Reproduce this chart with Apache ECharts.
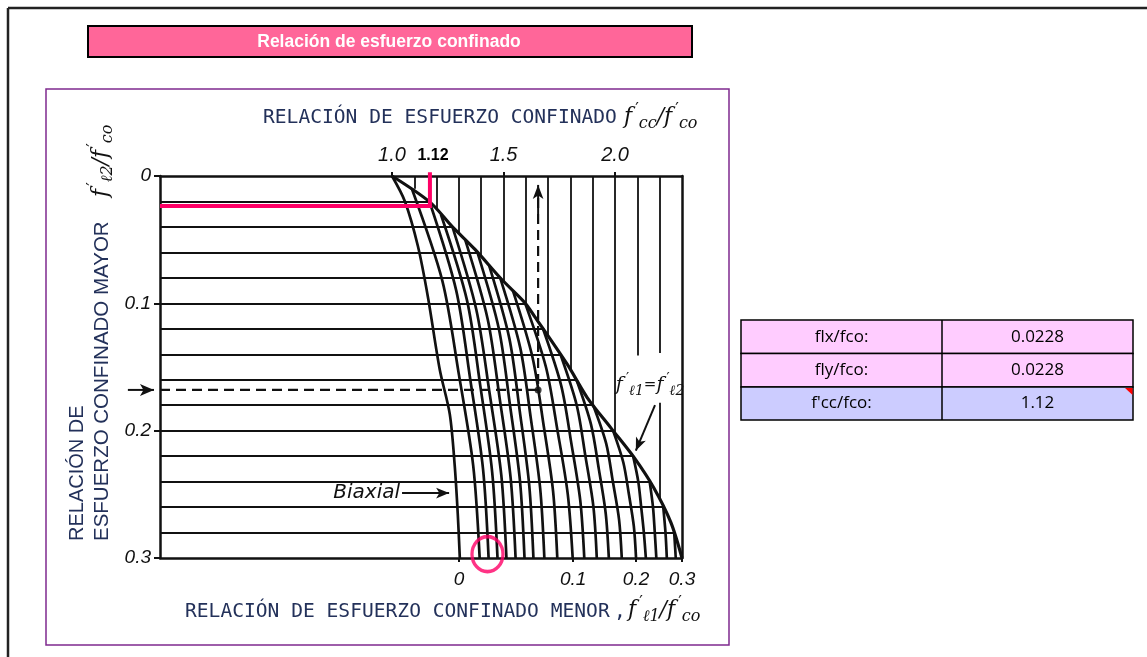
<!DOCTYPE html>
<html>
<head>
<meta charset="utf-8">
<script src="https://cdn.jsdelivr.net/npm/echarts@6/dist/echarts.min.js"></script>
<style>
  html, body { margin: 0; padding: 0; background: #fff; }
  #chart { width: 1147px; height: 657px; }
</style>
</head>
<body>
<div id="chart"></div>
<script>
// eje superior: f'cc/f'co
const topTicks = [1.0, 1.5, 2.0]
// eje inferior: f'l1/f'co (posición leída sobre la escala f'cc/f'co)
const bottomTickPos = [1.300, 1.812, 2.094, 2.3]
const bottomTickText = ['0', '0.1', '0.2', '0.3']

// rejilla horizontal (f'l2/f'co) hasta la envolvente
const hGridY = [0.02, 0.04, 0.06, 0.08, 0.10, 0.12, 0.14, 0.16, 0.18, 0.20, 0.22, 0.24, 0.26, 0.28]
const hGridEnd = [1.168, 1.271, 1.383, 1.485, 1.597, 1.677, 1.755, 1.827, 1.902, 1.991, 2.081, 2.155, 2.216, 2.265]
// rejilla vertical (f'cc/f'co), tramos desde/hasta
const vGridX = [1.1, 1.2, 1.3, 1.4, 1.5, 1.6, 1.7, 1.8, 1.9, 2.0, 2.1, 2.2, 2.2]
const vGridFrom = [0, 0, 0, 0, 0, 0, 0, 0, 0, 0, 0, 0, 0.178]
const vGridTo = [0.010, 0.026, 0.045, 0.063, 0.083, 0.101, 0.126, 0.152, 0.180, 0.202, 0.141, 0.139, 0.254]

// envolvente f'l1 = f'l2
const envelope = [[1.0, 0], [1.170, 0.0205], [1.268, 0.0394], [1.371, 0.0575], [1.491, 0.0811], [1.594, 0.0992],
  [1.638, 0.110], [1.786, 0.148], [1.875, 0.174], [1.982, 0.198], [2.085, 0.221], [2.174, 0.245], [2.25, 0.272], [2.30, 0.30]]

// curvas de f'l1/f'co constante
const biaxial = [[1.0, 0], [1.058, 0.02], [1.116, 0.055], [1.161, 0.095], [1.214, 0.152], [1.259, 0.187], [1.281, 0.227], [1.295, 0.266], [1.304, 0.3]]
const curves = [
  biaxial,
  [[1.089, 0.01], [1.226, 0.0825], [1.299, 0.155], [1.364, 0.2275], [1.393, 0.3]],
  [[1.168, 0.02], [1.288, 0.09], [1.351, 0.16], [1.408, 0.23], [1.433, 0.3]],
  [[1.219, 0.03], [1.336, 0.0975], [1.396, 0.165], [1.449, 0.2325], [1.473, 0.3]],
  [[1.271, 0.04], [1.378, 0.105], [1.437, 0.17], [1.490, 0.235], [1.513, 0.3]],
  [[1.328, 0.05], [1.429, 0.1125], [1.483, 0.175], [1.532, 0.2375], [1.554, 0.3]],
  [[1.383, 0.06], [1.479, 0.12], [1.529, 0.18], [1.574, 0.24], [1.594, 0.3]],
  [[1.435, 0.07], [1.526, 0.1275], [1.573, 0.185], [1.615, 0.2425], [1.634, 0.3]],
  [[1.485, 0.08], [1.575, 0.135], [1.622, 0.19], [1.664, 0.245], [1.683, 0.3]],
  [[1.542, 0.09], [1.630, 0.1425], [1.679, 0.195], [1.722, 0.2475], [1.741, 0.3]],
  [[1.597, 0.10], [1.690, 0.15], [1.742, 0.20], [1.788, 0.25], [1.810, 0.3]],
  [[1.677, 0.12], [1.759, 0.165], [1.804, 0.21], [1.844, 0.255], [1.862, 0.3]],
  [[1.755, 0.14], [1.828, 0.18], [1.867, 0.22], [1.903, 0.26], [1.918, 0.3]],
  [[1.827, 0.16], [1.892, 0.195], [1.927, 0.23], [1.958, 0.265], [1.972, 0.3]],
  [[1.902, 0.18], [1.960, 0.21], [1.990, 0.24], [2.018, 0.27], [2.030, 0.3]],
  [[1.991, 0.20], [2.037, 0.225], [2.062, 0.25], [2.084, 0.275], [2.094, 0.3]],
  [[2.081, 0.22], [2.104, 0.24], [2.117, 0.26], [2.129, 0.28], [2.138, 0.3]],
  [[2.155, 0.24], [2.170, 0.26], [2.178, 0.28], [2.185, 0.3]],
  [[2.216, 0.26], [2.226, 0.28], [2.232, 0.3]],
  [[2.265, 0.28], [2.272, 0.3]]
]

// ejemplo punteado
const dashedPath = [[-0.04, 0.168], [1.655, 0.168], [1.655, 0.012]]
// resultado marcado en rosa
const pinkPath = [[-0.04, 0.0236], [1.17, 0.0236], [1.17, -0.003]]
const pinkCircle = [1.428, 0.297]

// tabla
const tableLabels = ['flx/fco:', 'fly/fco:', "f'cc/fco:"]
const tableValues = ['0.0228', '0.0228', '1.12']

const ink = '#23315a'
const black = '#111'
const pink = '#ff0066'
const xMin = -0.04, xMax = 2.3

const series = []
series.push({
  type: 'lines', coordinateSystem: 'cartesian2d', silent: true,
  lineStyle: { color: black, width: 1.8, opacity: 1 },
  data: hGridY.map((y, i) => ({ coords: [[xMin, y], [hGridEnd[i], y]] }))
})
series.push({
  type: 'lines', coordinateSystem: 'cartesian2d', silent: true,
  lineStyle: { color: black, width: 1.8, opacity: 1 },
  data: vGridX.map((x, i) => ({ coords: [[x, vGridFrom[i]], [x, vGridTo[i]]] }))
})
series.push({
  type: 'line', data: envelope, smooth: 0.3, symbol: 'none', silent: true,
  lineStyle: { color: black, width: 3.2 }
})
curves.forEach(c => series.push({
  type: 'line', data: c, smooth: 0.3, symbol: 'none', silent: true,
  lineStyle: { color: black, width: 2.7 }
}))
// punteado
series.push({
  type: 'line', data: dashedPath, symbol: 'none', silent: true,
  lineStyle: { color: black, width: 2.2, type: [10, 6] }
})
// flechas
const arrowLine = (pts, rot, size) => ({
  type: 'line', clip: false, silent: true, showSymbol: true,
  lineStyle: { color: black, width: 2 },
  itemStyle: { color: black },
  data: [
    { value: pts[0], symbol: 'none' },
    { value: pts[1], symbol: 'arrow', symbolRotate: rot, symbolSize: size }
  ]
})
series.push(arrowLine([[-0.184, 0.168], [-0.067, 0.168]], -90, [9, 14]))
series.push(arrowLine([[1.655, 0.03], [1.655, 0.007]], 0, [8, 14]))
series.push(arrowLine([[1.045, 0.249], [1.256, 0.249]], -90, [8, 13]))
series.push(arrowLine([[2.179, 0.180], [2.093, 0.2157]], 157, [8, 13]))
series.push({
  type: 'scatter', data: [[1.655, 0.168]], symbolSize: 7, silent: true,
  itemStyle: { color: black }
})
// marcas rosas
series.push({
  type: 'line', data: pinkPath, symbol: 'none', clip: false, silent: true, z: 10,
  lineStyle: { color: pink, width: 4, join: 'miter' }
})
series.push({
  type: 'scatter', data: [pinkCircle], symbol: 'circle', symbolSize: [31, 35], clip: false, silent: true, z: 10,
  itemStyle: { color: 'rgba(0,0,0,0)', borderColor: pink, borderWidth: 3.5 }
})

const numFont = { fontStyle: 'italic', fontFamily: 'Liberation Sans', fontSize: 19, color: black }

// texto matemático f'xx/f'xx
function mathRich(size) {
  const small = Math.round(size * 0.72)
  return {
    f: { fontFamily: 'DejaVu Serif', fontStyle: 'italic', fontSize: size, lineHeight: size + 8, verticalAlign: 'middle', fill: black },
    e: { fontFamily: 'DejaVu Sans', fontSize: Math.round(size * 0.8), verticalAlign: 'middle', fill: black },
    p: { fontFamily: 'DejaVu Sans', fontSize: small, verticalAlign: 'top', fill: black, padding: [0, 0, 0, 3] },
    s: { fontFamily: 'DejaVu Serif', fontStyle: 'italic', fontSize: small, verticalAlign: 'bottom', fill: black }
  }
}

const staticGraphics = [
  // bordes de la hoja
  { type: 'line', shape: { x1: 8, y1: 8, x2: 1147, y2: 8 }, style: { stroke: '#222', lineWidth: 2.5 } },
  { type: 'line', shape: { x1: 8, y1: 8, x2: 8, y2: 657 }, style: { stroke: '#222', lineWidth: 2.5 } },
  // barra de título
  { type: 'rect', shape: { x: 88, y: 26, width: 604, height: 31 }, style: { fill: '#ff6699', stroke: '#000', lineWidth: 2 } },
  { type: 'text', x: 389, y: 42, style: { text: 'Relación de esfuerzo confinado', font: 'bold 17.5px "Liberation Sans Narrow", "Liberation Sans"', fill: '#fff', textAlign: 'center', textVerticalAlign: 'middle' } },
  // marco de la imagen
  { type: 'rect', shape: { x: 46, y: 89, width: 683, height: 556 }, style: { fill: 'none', stroke: '#7f2a8f', lineWidth: 1.5 } },
  // títulos de ejes
  { type: 'text', x: 263, y: 118, style: { text: 'RELACIÓN DE ESFUERZO CONFINADO', font: '19.6px "DejaVu Sans Mono"', fill: ink, textVerticalAlign: 'middle' } },
  { type: 'text', x: 624, y: 117, style: { text: '{f|f}{p|′}{s|cc}{f|/f}{p|′}{s|co}', rich: mathRich(22), textVerticalAlign: 'middle' } },
  { type: 'text', x: 185, y: 612, style: { text: 'RELACIÓN DE ESFUERZO CONFINADO MENOR', font: '19.6px "DejaVu Sans Mono"', fill: ink, textVerticalAlign: 'middle' } },
  { type: 'text', x: 614, y: 612, style: { text: ',', font: '19.6px "DejaVu Sans Mono"', fill: ink, textVerticalAlign: 'middle' } },
  { type: 'text', x: 628, y: 610, style: { text: '{f|f}{p|′}{s|ℓ1}{f|/f}{p|′}{s|co}', rich: mathRich(22), textVerticalAlign: 'middle' } },
  { type: 'text', x: 77, y: 541, rotation: Math.PI / 2, style: { text: 'RELACIÓN DE', font: '20px "Liberation Sans"', fill: ink, textVerticalAlign: 'middle' } },
  { type: 'text', x: 102, y: 541, rotation: Math.PI / 2, style: { text: 'ESFUERZO CONFINADO MAYOR', font: '20.5px "Liberation Sans"', fill: ink, textVerticalAlign: 'middle' } },
  { type: 'text', x: 101, y: 197, rotation: Math.PI / 2, style: { text: '{f|f}{p|′}{s|ℓ2}{f|/f}{p|′}{s|co}', rich: mathRich(22), textVerticalAlign: 'middle' } }
]

// tabla de resultados
const rowFills = ['#ffccff', '#ffccff', '#ccccff']
const rowTop = [320, 353.5, 387, 420]
const colX = [741, 942, 1133]
tableLabels.forEach((lab, i) => {
  staticGraphics.push({ type: 'rect', shape: { x: colX[0], y: rowTop[i], width: colX[2] - colX[0], height: rowTop[i + 1] - rowTop[i] }, style: { fill: rowFills[i], stroke: '#000', lineWidth: 1.5 } })
  staticGraphics.push({ type: 'text', x: (colX[0] + colX[1]) / 2, y: (rowTop[i] + rowTop[i + 1]) / 2, style: { text: lab, font: '17px "Open Sans"', fill: '#000', textAlign: 'center', textVerticalAlign: 'middle' } })
  staticGraphics.push({ type: 'text', x: (colX[1] + colX[2]) / 2, y: (rowTop[i] + rowTop[i + 1]) / 2, style: { text: tableValues[i], font: '17px "Open Sans"', fill: '#000', textAlign: 'center', textVerticalAlign: 'middle' } })
})
staticGraphics.push({ type: 'line', shape: { x1: colX[1], y1: rowTop[0], x2: colX[1], y2: rowTop[3] }, style: { stroke: '#000', lineWidth: 1.5 } })
staticGraphics.push({ type: 'polygon', shape: { points: [[1125, 388], [1132.5, 388], [1132.5, 395]] }, style: { fill: '#ff0000' } })

const chart = echarts.init(document.getElementById('chart'))
chart.setOption({
  animation: false,
  backgroundColor: '#fff',
  grid: { left: 160, top: 176, width: 522, height: 382, show: false },
  xAxis: [
    {
      type: 'value', position: 'top', min: xMin, max: xMax,
      axisLine: { show: true, onZero: false, lineStyle: { color: black, width: 2.5 } },
      axisTick: { show: true, customValues: topTicks, length: 4, lineStyle: { color: black, width: 2 } },
      axisLabel: Object.assign({ customValues: topTicks, formatter: v => v.toFixed(1), margin: 11, fontSize: 20 }, { fontStyle: 'italic', fontFamily: 'Liberation Sans', color: black }),
      splitLine: { show: false }
    },
    {
      type: 'value', position: 'bottom', min: xMin, max: xMax,
      axisLine: { show: true, onZero: false, lineStyle: { color: black, width: 2.5 } },
      axisTick: { show: true, customValues: bottomTickPos, length: 4, lineStyle: { color: black, width: 2 } },
      axisLabel: Object.assign({
        customValues: bottomTickPos, margin: 12, showMaxLabel: true,
        formatter: v => {
          let best = 0
          bottomTickPos.forEach((p, i) => { if (Math.abs(p - v) < Math.abs(bottomTickPos[best] - v)) best = i })
          return bottomTickText[best]
        }
      }, numFont),
      splitLine: { show: false }
    }
  ],
  yAxis: [
    {
      type: 'value', inverse: true, min: 0, max: 0.3, interval: 0.1,
      axisLine: { show: true, onZero: false, lineStyle: { color: black, width: 2.5 } },
      axisTick: { show: true, length: 6, lineStyle: { color: black, width: 2 } },
      axisLabel: Object.assign({ margin: 9 }, numFont),
      splitLine: { show: false }
    },
    {
      type: 'value', position: 'right', inverse: true, min: 0, max: 0.3,
      axisLine: { show: true, onZero: false, lineStyle: { color: black, width: 2.5 } },
      axisTick: { show: false }, axisLabel: { show: false }, splitLine: { show: false }
    }
  ],
  series: series,
  graphic: staticGraphics
})

// anotaciones dentro del gráfico
const toPx = p => chart.convertToPixel({ xAxisIndex: 0, yAxisIndex: 0 }, p)
const pBiax = toPx([1.036, 0.249])
const p112 = toPx([1.184, 0])
const pEq = toPx([2.157, 0.164])
const pArrA = toPx([-0.184, 0.168])
const pArrB = toPx([-0.067, 0.168])
chart.setOption({
  graphic: staticGraphics.concat([
    { type: 'line', shape: { x1: pArrA[0], y1: pArrA[1], x2: pArrB[0], y2: pArrB[1] }, style: { stroke: black, lineWidth: 2 } },
    { type: 'text', x: pBiax[0], y: pBiax[1], style: { text: 'Biaxial', font: 'italic 20px "DejaVu Sans"', fill: black, textAlign: 'right', textVerticalAlign: 'middle' } },
    { type: 'text', x: p112[0], y: p112[1] - 12, style: { text: '1.12', font: 'bold 16px "Liberation Sans"', fill: '#000', textAlign: 'center', textVerticalAlign: 'bottom' } },
    { type: 'text', x: pEq[0], y: pEq[1], style: { text: '{f|f}{p|′}{s|ℓ1}{e|=}{f|f}{p|′}{s|ℓ2}', rich: mathRich(19), textAlign: 'center', textVerticalAlign: 'middle' } }
  ])
})
</script>
</body>
</html>
